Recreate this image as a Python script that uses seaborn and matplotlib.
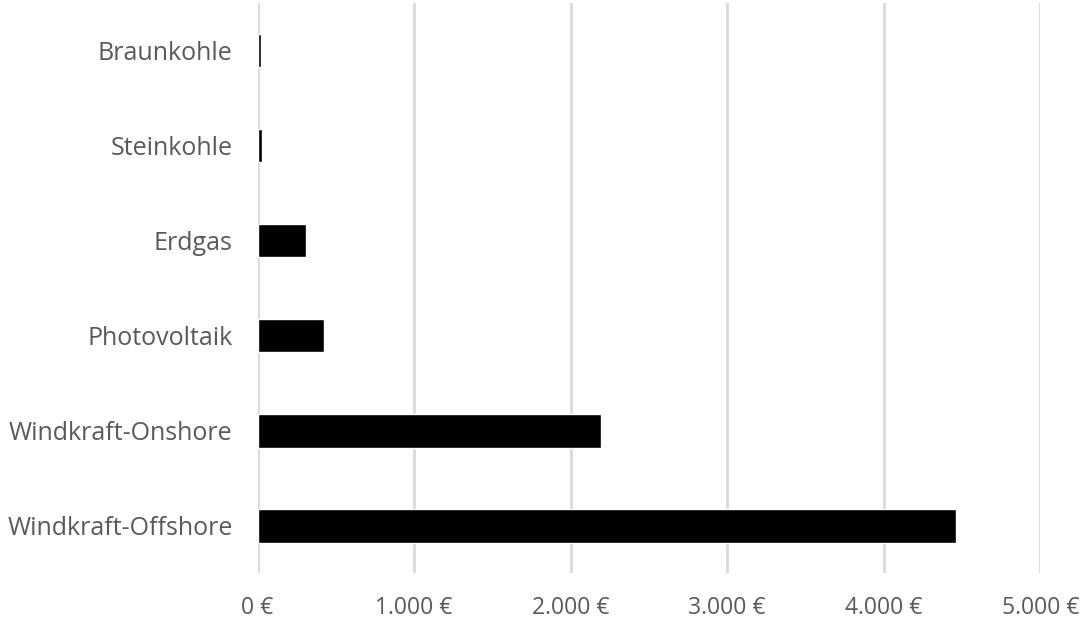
import matplotlib
matplotlib.use("Agg")
import matplotlib.pyplot as plt
import seaborn as sns
import pandas as pd
from matplotlib.ticker import FuncFormatter

# values (EUR)
sources = ["Braunkohle", "Steinkohle", "Erdgas", "Photovoltaik",
           "Windkraft-Onshore", "Windkraft-Offshore"]
costs = [20, 30, 308, 423, 2192, 4460]
ticks = [0, 1000, 2000, 3000, 4000, 5000]

df = pd.DataFrame({"source": sources, "cost": costs})

sns.set_style("white")
plt.rcParams["font.family"] = ["Open Sans", "DejaVu Sans"]

fig, ax = plt.subplots(figsize=(10.87, 6.22), dpi=100)
sns.barplot(data=df, x="cost", y="source", order=sources, color="black",
            width=0.35, saturation=1, ax=ax)

ax.set_xlim(0, 5000)
ax.set_xticks(ticks)
ax.xaxis.set_major_formatter(FuncFormatter(lambda v, p: f"{int(v):,} €".replace(",", ".")))
ax.grid(axis="x", color="#d9d9d9", linewidth=2)
ax.set_axisbelow(True)
for s in ax.spines.values():
    s.set_visible(False)
ax.tick_params(length=0, labelcolor="#595959")
ax.tick_params(axis="x", pad=16, labelsize=16.5)
ax.tick_params(axis="y", pad=18, labelsize=18)
ax.set_xlabel("")
ax.set_ylabel("")

fig.subplots_adjust(left=0.237, right=0.957, top=0.995, bottom=0.078)
fig.savefig("out.png", dpi=100, facecolor="white")
